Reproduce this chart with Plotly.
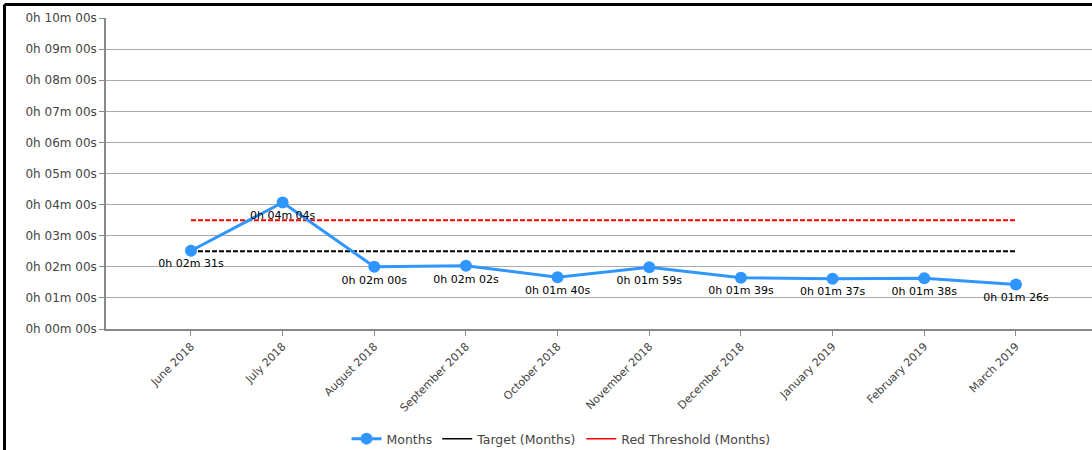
import plotly.graph_objects as go

months = ["June 2018", "July 2018", "August 2018", "September 2018", "October 2018",
          "November 2018", "December 2018", "January 2019", "February 2019", "March 2019"]
values_s = [151, 244, 120, 122, 100, 119, 99, 97, 98, 86]
target_s = [150] * 10
red_s = [210] * 10
ytick_vals = [i * 60 for i in range(11)]


def fmt(s):
    return f"0h {s // 60:02d}m {s % 60:02d}s"


ytick_text = [fmt(v) for v in ytick_vals]
labels = [fmt(v) for v in values_s]

FONT = "DejaVu Sans"
fig = go.Figure()
fig.add_trace(go.Scatter(x=months, y=target_s, mode="lines", showlegend=False,
                         line=dict(color="black", width=2, dash="5px,2px"), hoverinfo="skip"))
fig.add_trace(go.Scatter(x=months, y=red_s, mode="lines", showlegend=False,
                         line=dict(color="#ff0000", width=2, dash="5px,2px"), hoverinfo="skip"))
fig.add_trace(go.Scatter(x=months, y=values_s, mode="lines+markers+text", name="Months",
                         line=dict(color="#2f95ff", width=3),
                         marker=dict(size=12, color="#2f95ff"),
                         text=labels, textposition="bottom center",
                         textfont=dict(family=FONT, size=11, color="black")))
fig.add_trace(go.Scatter(x=[None], y=[None], mode="lines", name="Target (Months)",
                         line=dict(color="black", width=1.5)))
fig.add_trace(go.Scatter(x=[None], y=[None], mode="lines", name="Red Threshold (Months)",
                         line=dict(color="#ff0000", width=1.5)))

L, T, B = 106, 18, 121
W, H = 1092, 450
pw, ph = W - L, H - T - B

fig.update_layout(
    width=W, height=H,
    margin=dict(l=L, r=0, t=T, b=B, autoexpand=False),
    plot_bgcolor="white", paper_bgcolor="white",
    font=dict(family=FONT, size=12, color="#444"),
    legend=dict(orientation="h", x=(561 - L) / pw, xanchor="center", y=-(439 - (H - B)) / ph,
                yanchor="middle", font=dict(family=FONT, size=12.5, color="#444"),
                tracegroupgap=0),
    showlegend=True,
)
fig.update_xaxes(type="category", range=[-0.927, 9.83], showgrid=False, automargin=False,
                 showline=True, linecolor="#888", linewidth=1.5,
                 ticks="outside", ticklen=5, tickcolor="#888",
                 tickangle=-45, tickfont=dict(family=FONT, size=11, color="#444"))
fig.update_yaxes(range=[0, 600], tickvals=ytick_vals, ticktext=ytick_text, automargin=False,
                 showgrid=True, gridcolor="#aaa", gridwidth=1,
                 showline=True, linecolor="#888", linewidth=1.5,
                 ticks="outside", ticklen=5, tickcolor="#888", zeroline=False,
                 tickfont=dict(family=FONT, size=12, color="#444"))

# outer frame (top and left black borders)
fig.add_shape(type="line", xref="paper", yref="paper",
              x0=(4.5 - L) / pw, x1=1.01, y0=1 + (T - 4.5) / ph, y1=1 + (T - 4.5) / ph,
              line=dict(color="black", width=3))
fig.add_shape(type="line", xref="paper", yref="paper",
              x0=(4.5 - L) / pw, x1=(4.5 - L) / pw, y0=1 + (T - 4.5) / ph, y1=-(H - (H - B) + 5) / ph,
              line=dict(color="black", width=3))

fig.write_html("out.html", config={"displayModeBar": False},
               post_script="document.body.style.margin='0';document.body.style.overflow='hidden';")
